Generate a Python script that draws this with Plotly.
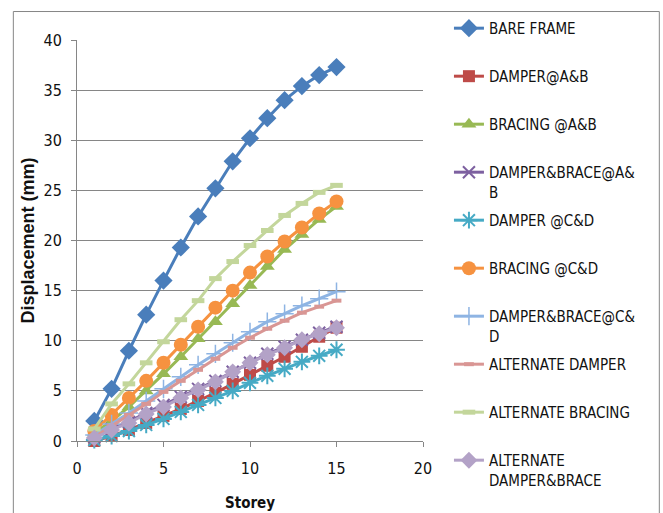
import plotly.graph_objects as go

# Storey numbers and lateral displacement (mm) for each structural configuration
storeys = list(range(1, 16))

bare_frame = [2.0, 5.2, 9.0, 12.6, 16.0, 19.3, 22.4, 25.2, 27.9, 30.2, 32.2, 34.0, 35.4, 36.5, 37.3]
damper_ab = [0.0, 0.5, 1.1, 1.8, 2.5, 3.2, 4.0, 4.8, 5.7, 6.6, 7.5, 8.4, 9.4, 10.4, 11.3]
bracing_ab = [0.8, 2.0, 3.4, 5.0, 6.7, 8.4, 10.2, 11.9, 13.7, 15.5, 17.4, 19.1, 20.6, 22.1, 23.4]
damper_brace_ab = [0.4, 1.2, 1.9, 2.8, 3.6, 4.4, 5.2, 6.0, 6.9, 7.8, 8.7, 9.4, 10.1, 10.8, 11.4]
damper_cd = [0.1, 0.5, 1.0, 1.6, 2.2, 2.9, 3.6, 4.3, 5.0, 5.8, 6.5, 7.2, 7.9, 8.5, 9.1]
bracing_cd = [1.0, 2.6, 4.3, 6.0, 7.8, 9.6, 11.4, 13.3, 15.0, 16.8, 18.4, 19.9, 21.3, 22.7, 23.9]
damper_brace_cd = [0.6, 1.7, 2.8, 4.0, 5.2, 6.4, 7.6, 8.7, 9.8, 10.9, 11.9, 12.7, 13.5, 14.2, 14.9]
alt_damper = [0.4, 1.5, 2.6, 3.7, 4.9, 6.0, 7.1, 8.2, 9.3, 10.3, 11.2, 12.0, 12.8, 13.4, 14.0]
alt_bracing = [1.2, 3.7, 5.7, 7.8, 9.9, 12.1, 14.0, 16.2, 17.9, 19.5, 21.0, 22.5, 23.7, 24.8, 25.5]
alt_damper_brace = [0.3, 1.1, 1.8, 2.7, 3.4, 4.3, 5.1, 5.9, 6.9, 7.8, 8.6, 9.3, 10.1, 10.7, 11.3]

x_ticks = [0, 5, 10, 15, 20]
y_ticks = [0, 5, 10, 15, 20, 25, 30, 35, 40]

NARROW = "DejaVu Sans Condensed, Liberation Sans Narrow, Liberation Sans, Arial, sans-serif"
WIDE = "Liberation Sans, Arial, sans-serif"
GRID = "#868686"
NB = "\u00a0"

# name, values, colour, marker symbol, marker size, marker line width
series = [
    ("BARE FRAME<br>" + NB, bare_frame, "#4A7EBB", "diamond", 14, 0),
    ("DAMPER@A&B<br>" + NB, damper_ab, "#BE4B48", "square", 12, 0),
    ("BRACING @A&B<br>" + NB, bracing_ab, "#98B954", "triangle-up", 13, 0),
    ("DAMPER&BRACE@A&<br>B", damper_brace_ab, "#7D60A0", "x-thin", 12, 2),
    ("DAMPER @C&D<br>" + NB, damper_cd, "#46AAC5", "asterisk", 14, 2),
    ("BRACING @C&D<br>" + NB, bracing_cd, "#F69240", "circle", 14, 0),
    ("DAMPER&BRACE@C&<br>D", damper_brace_cd, "#8EB4E3", "cross-thin", 13, 1.5),
    ("ALTERNATE DAMPER<br>" + NB, alt_damper, "#D99694", "line-ew", 7, 4),
    ("ALTERNATE BRACING<br>" + NB, alt_bracing, "#C3D69B", "line-ew", 9, 5),
    ("ALTERNATE<br>DAMPER&BRACE", alt_damper_brace, "#B3A2C7", "diamond", 13, 0),
]

fig = go.Figure()
for i, (name, vals, color, sym, size, lw) in enumerate(series):
    open_sym = sym in ("x-thin", "asterisk", "cross-thin", "line-ew")
    marker = dict(symbol=sym, size=size, color=color)
    if open_sym:
        marker["line"] = dict(color=color, width=lw)
    fig.add_trace(go.Scatter(
        x=storeys, y=vals, name=name, mode="lines+markers",
        line=dict(color=color, width=3),
        marker=marker, cliponaxis=False,
        legendgroup=f"g{i}",
    ))

fig.update_layout(
    width=663, height=513,
    margin=dict(l=77, r=240, t=38, b=72),
    paper_bgcolor="white", plot_bgcolor="white",
    font=dict(family=NARROW, size=15, color="#111111"),
    showlegend=True,
    legend=dict(
        x=1.075, y=1.07, xanchor="left", yanchor="top",
        traceorder="grouped", tracegroupgap=6, valign="top",
        maxheight=800,
        font=dict(family=NARROW, size=15, color="#111111"),
        bgcolor="rgba(0,0,0,0)",
    ),
    xaxis=dict(
        range=[0, 20], tickvals=x_ticks, showgrid=False, zeroline=False,
        showline=True, linecolor=GRID, linewidth=1, automargin=False,
        ticks="outside", ticklen=5, tickcolor=GRID,
        tickfont=dict(family=NARROW, size=16),
        ticklabelstandoff=8,
        title=dict(text="<b>Storey</b>", font=dict(family=NARROW, size=15), standoff=20),
    ),
    yaxis=dict(
        range=[0, 40], tickvals=y_ticks, showgrid=True, gridcolor=GRID, gridwidth=1,
        zeroline=False, showline=True, linecolor=GRID, linewidth=1, automargin=False,
        ticks="outside", ticklen=5, tickcolor=GRID,
        tickfont=dict(family=NARROW, size=16),
        ticklabelstandoff=6,
        title=dict(text="<b>Displacement (mm)</b>", font=dict(family=WIDE, size=18), standoff=4),
    ),
    shapes=[dict(
        type="rect", xref="paper", yref="paper",
        x0=-0.184, x1=1.683, y0=-0.2, y1=1.071,
        line=dict(color=GRID, width=1), fillcolor="rgba(0,0,0,0)", layer="below",
    )],
)

fig.write_html("out.html")
